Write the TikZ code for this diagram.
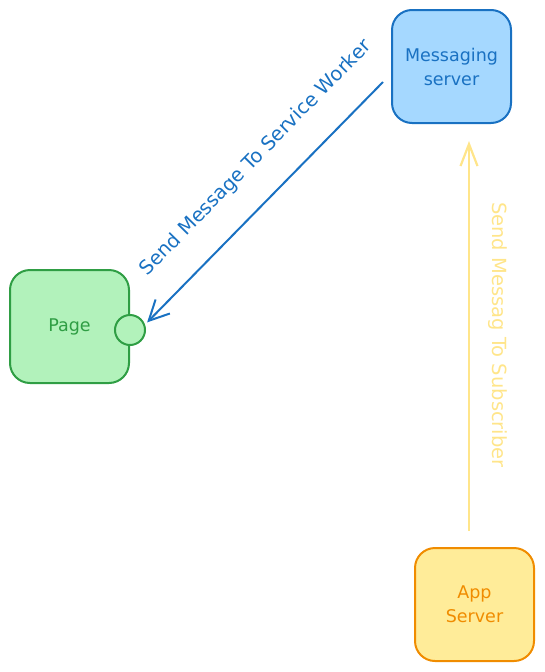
\documentclass[tikz,border=0pt]{standalone}
\usepackage{fontspec}
\setmainfont{DejaVu Sans}
\usetikzlibrary{arrows.meta}
\definecolor{blueline}{HTML}{1971C2}
\definecolor{bluefill}{HTML}{A5D8FF}
\definecolor{greenline}{HTML}{2F9E44}
\definecolor{greenfill}{HTML}{B2F2BB}
\definecolor{orangeline}{HTML}{F08C00}
\definecolor{yellowfill}{HTML}{FFEC99}
\definecolor{yellowline}{HTML}{FFE58A}
\tikzset{
  box/.style={draw, rounded corners=20pt, line width=2pt, minimum width=119pt,
    minimum height=113pt, align=center, font=\fontsize{17.5}{24}\selectfont},
  lbl/.style={font=\fontsize{19.5}{22}\selectfont, inner sep=0pt}
}
\begin{document}
\begin{tikzpicture}[x=1pt,y=-1pt]
\useasboundingbox (0,0) rectangle (544,672);
\node[box, draw=blueline, fill=bluefill, text=blueline] (msg) at (451.5,66.5) {Messaging\\server};
\node[box, draw=greenline, fill=greenfill, text=greenline] (page) at (69.5,326.5) {Page};
\node[circle, draw=greenline, fill=greenfill, line width=2pt, minimum size=30pt, inner sep=0pt] (port) at (130,330) {};
\node[box, draw=orangeline, fill=yellowfill, text=orangeline] (app) at (474.5,604.5) {App\\Server};
\coordinate (msgout) at (383,82);
\draw [blueline, line width=2pt, -{Straight Barb[length=20pt,width=20pt]}, shorten >=3pt] (msgout) -- (port.20);
\draw [yellowline, line width=2.2pt, -{Straight Barb[length=22pt,width=17pt]}] ([xshift=-5.5pt,yshift=16pt]app.north) -- ([xshift=17.5pt,yshift=-17pt]msg.south);
\node[lbl, text=blueline, rotate=45.6] (tosw) at (256,158) {Send Message To Service Worker};
\node[lbl, text=yellowline, rotate=-90] (tosub) at (498,335) {Send Messag To Subscriber};
\end{tikzpicture}
\end{document}
